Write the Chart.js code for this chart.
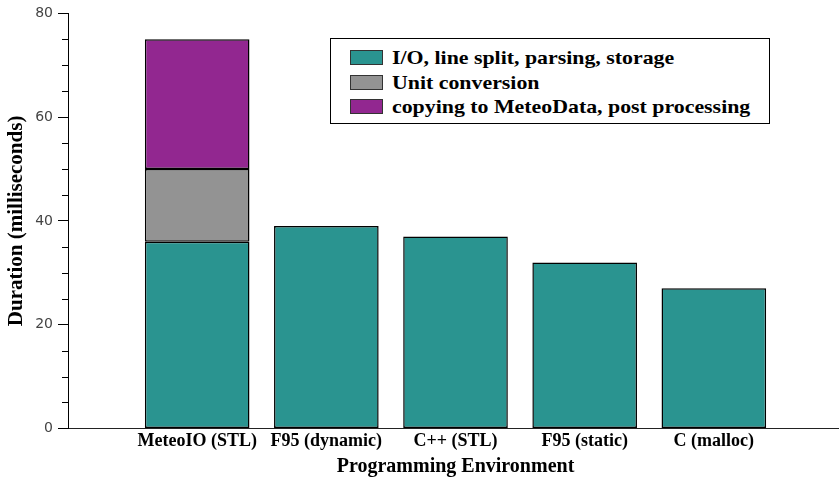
<!DOCTYPE html>
<html>
<head>
<meta charset="utf-8">
<script src="https://cdn.jsdelivr.net/npm/chart.js@4/dist/chart.umd.min.js"></script>
<style>
    html, body { margin: 0; padding: 0; background: #fff; overflow: hidden; }
    #wrap { position: relative; width: 845px; height: 479px; }
    #legend {
        position: absolute; left: 330px; top: 38px; width: 438px; height: 84px;
        border: 1px solid #000; background: #fff;
        font-family: 'Liberation Serif', serif; font-weight: bold; font-size: 19px; color: #000;
    }
    .item { position: absolute; left: 19px; height: 24px; line-height: 24px; white-space: nowrap; }
    .swatch {
        display: inline-block; width: 31px; height: 13px; border: 1.5px solid #333;
        vertical-align: -1px; margin-right: 9px;
    }
    .txt { display: inline-block; transform: scaleX(1.15); transform-origin: left center; }
</style>
</head>
<body>
<div id="wrap">
    <canvas id="chart" width="845" height="479"></canvas>
    <div id="legend"></div>
</div>
<script>
// 数据
const categories = ['MeteoIO (STL)', 'F95 (dynamic)', 'C++ (STL)', 'F95 (static)', 'C (malloc)'];
const ioParsing = [36, 39, 37, 32, 27];
const unitConversion = [14, null, null, null, null];
const postProcessing = [25, null, null, null, null];
const seriesNames = ['I/O, line split, parsing, storage', 'Unit conversion', 'copying to MeteoData, post processing'];
const seriesColors = ['#2a9490', '#939393', '#922790'];
const yTickLabels = [0, 20, 40, 60, 80];

// 两端留空位置
const pad = arr => [null, ...arr, null];
const labels = ['', ...categories, ''];

// 次刻度
const minorTicks = {
    id: 'minorTicks',
    afterDraw(chart) {
        const y = chart.scales.y;
        const ctx = chart.ctx;
        const left = chart.chartArea.left;
        ctx.save();
        ctx.strokeStyle = '#000';
        ctx.lineWidth = 1;
        for (let v = 5; v < 80; v += 5) {
            if (v % 20 === 0) continue;
            const py = Math.round(y.getPixelForValue(v)) + 0.5;
            ctx.beginPath();
            ctx.moveTo(left - 6, py);
            ctx.lineTo(left, py);
            ctx.stroke();
        }
        ctx.restore();
    }
};

const datasets = [ioParsing, unitConversion, postProcessing].map((d, i) => ({
    label: seriesNames[i],
    data: pad(d),
    backgroundColor: seriesColors[i],
    borderColor: '#000',
    borderWidth: 1.5,
    borderSkipped: false,
    categoryPercentage: 1,
    barPercentage: 0.81
}));

new Chart(document.getElementById('chart'), {
    type: 'bar',
    data: { labels, datasets },
    options: {
        responsive: false,
        animation: false,
        layout: { padding: { top: 5, right: 0, left: 4, bottom: 0 } },
        plugins: { legend: { display: false }, tooltip: { enabled: false } },
        scales: {
            x: {
                stacked: true,
                offset: false,
                grid: { display: false, drawTicks: false, tickLength: 0 },
                border: { display: true, color: '#222', width: 1 },
                ticks: {
                    autoSkip: false, maxRotation: 0, color: '#000', padding: 2,
                    font: { family: 'Liberation Serif', weight: 'bold', size: 18 }
                },
                title: {
                    display: true, text: 'Programming Environment', color: '#000', padding: { top: 1, bottom: 0 },
                    font: { family: 'Liberation Serif', weight: 'bold', size: 20 }
                }
            },
            y: {
                stacked: true,
                min: 0, max: 80,
                afterBuildTicks(scale) {
                    scale.ticks = yTickLabels.map(v => ({ value: v }));
                },
                grid: { drawOnChartArea: false, drawTicks: true, tickLength: 10, tickColor: '#000' },
                border: { display: true, color: '#000', width: 1 },
                ticks: {
                    color: '#444', padding: 5,
                    font: { family: 'DejaVu Sans', size: 14 }
                },
                title: {
                    display: true, text: 'Duration (milliseconds)', color: '#000', padding: { top: 0, bottom: 1 },
                    font: { family: 'Liberation Serif', weight: 'bold', size: 21 }
                }
            }
        }
    },
    plugins: [minorTicks]
});

// 图例
const legend = document.getElementById('legend');
seriesNames.forEach((name, i) => {
    const item = document.createElement('div');
    item.className = 'item';
    item.style.top = (7 + i * 24.5) + 'px';
    item.innerHTML = '<span class="swatch" style="background:' + seriesColors[i] + '"></span><span class="txt">' + name + '</span>';
    legend.appendChild(item);
});
</script>
</body>
</html>
